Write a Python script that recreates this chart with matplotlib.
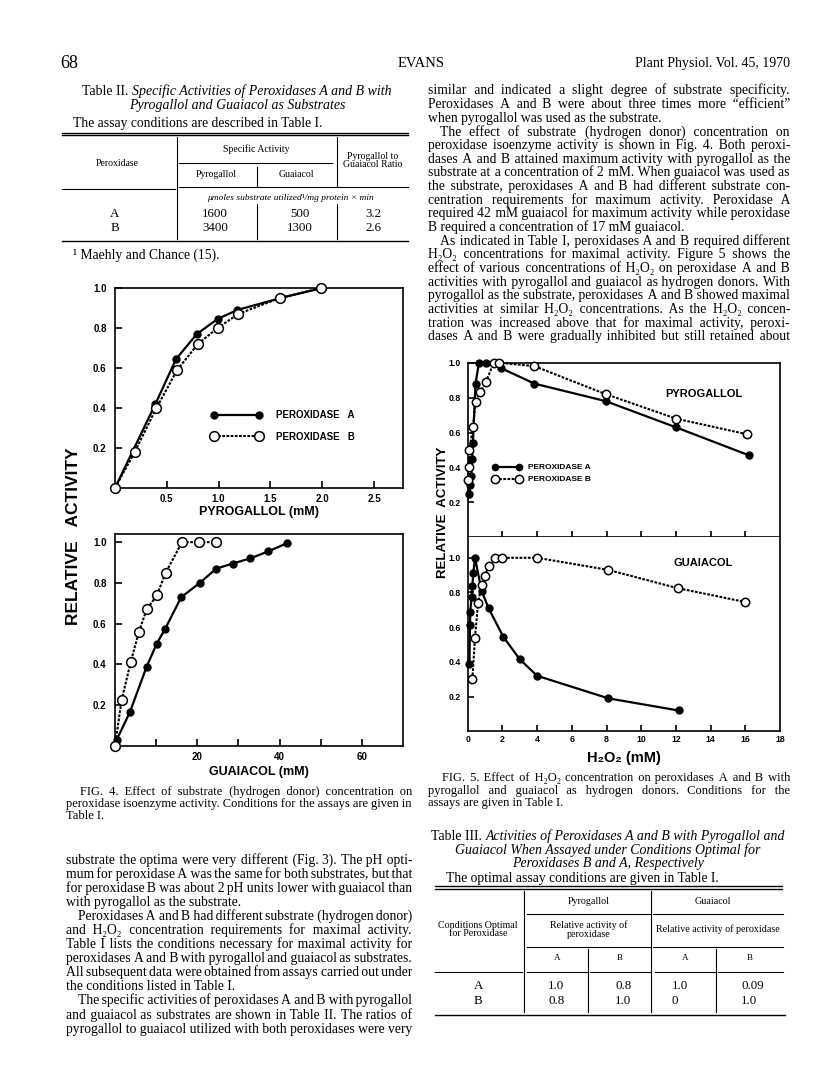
import matplotlib
matplotlib.use("Agg")
import matplotlib.pyplot as plt
from matplotlib.lines import Line2D

W, H = 816, 1073
SERIF = ['Liberation Serif', 'DejaVu Serif']
SANS = ['Liberation Sans', 'DejaVu Sans']
BODY = 9.8

# Fig. 4, pyrogallol (mM) vs relative activity
pyro_a_x = [0, 0.39, 0.59, 0.79, 0.99, 1.18, 1.6, 2.0]
pyro_a_y = [0, 0.42, 0.645, 0.77, 0.845, 0.89, 0.95, 1.0]
pyro_b_x = [0, 0.19, 0.40, 0.60, 0.80, 0.99, 1.19, 1.59, 1.99]
pyro_b_y = [0, 0.18, 0.40, 0.59, 0.72, 0.80, 0.87, 0.95, 1.0]

# Fig. 4, guaiacol (mM) vs relative activity
gua_a_x = [0.4, 3.6, 7.7, 10.1, 12.2, 16.1, 20.6, 24.6, 28.6, 32.8, 37.3, 41.8]
gua_a_y = [0.03, 0.165, 0.39, 0.50, 0.575, 0.73, 0.80, 0.87, 0.895, 0.92, 0.955, 0.995]
gua_b_x = [0, 1.6, 3.8, 5.8, 7.7, 10.2, 12.3, 16.3, 20.3, 24.5]
gua_b_y = [0, 0.225, 0.41, 0.56, 0.67, 0.74, 0.85, 1.0, 1.0, 1.0]

# Fig. 5, H2O2 (mM) with pyrogallol
h2o2_pa_x = [0.1, 0.15, 0.2, 0.25, 0.3, 0.45, 0.65, 1.05, 1.9, 3.85, 7.95, 12.0, 16.2]
h2o2_pa_y = [0.25, 0.30, 0.35, 0.45, 0.54, 0.88, 1.0, 1.0, 0.97, 0.88, 0.78, 0.63, 0.47]
h2o2_pb_x = [0, 0.05, 0.1, 0.3, 0.45, 0.7, 1.05, 1.5, 1.8, 3.85, 7.95, 12.0, 16.1]
h2o2_pb_y = [0.33, 0.40, 0.50, 0.63, 0.775, 0.83, 0.89, 1.0, 1.0, 0.98, 0.82, 0.68, 0.59]

# Fig. 5, H2O2 (mM) with guaiacol
h2o2_ga_x = [0.1, 0.13, 0.15, 0.22, 0.27, 0.32, 0.42, 0.8, 1.2, 2.05, 3.0, 4.0, 8.1, 12.15]
h2o2_ga_y = [0.39, 0.61, 0.69, 0.775, 0.84, 0.91, 1.0, 0.81, 0.71, 0.545, 0.415, 0.32, 0.19, 0.12]
h2o2_gb_x = [0.27, 0.42, 0.6, 0.8, 1.0, 1.2, 1.6, 2.0, 4.0, 8.1, 12.1, 16.0]
h2o2_gb_y = [0.30, 0.54, 0.74, 0.845, 0.895, 0.955, 1.0, 1.0, 1.0, 0.93, 0.825, 0.745]

# tables
t2_rows = ['A', 'B']
t2_pyro = ['1600', '3400']
t2_guai = ['500', '1300']
t2_ratio = ['3.2', '2.6']
t3_rows = ['A', 'B']
t3_pyro_a = ['1.0', '0.8']
t3_pyro_b = ['0.8', '1.0']
t3_guai_a = ['1.0', '0']
t3_guai_b = ['0.09', '1.0']

right_top = [
    ("similar and indicated a slight degree of substrate specificity.", False, True),
    ("Peroxidases A and B were about three times more \u201cefficient\u201d", False, True),
    ("when pyrogallol was used as the substrate.", False, False),
    ("The effect of substrate (hydrogen donor) concentration on", True, True),
    ("peroxidase isoenzyme activity is shown in Fig. 4. Both peroxi-", False, True),
    ("dases A and B attained maximum activity with pyrogallol as the", False, True),
    ("substrate at a concentration of 2 mM. When guaiacol was used as", False, True),
    ("the substrate, peroxidases A and B had different substrate con-", False, True),
    ("centration requirements for maximum activity. Peroxidase A", False, True),
    ("required 42 mM guaiacol for maximum activity while peroxidase", False, True),
    ("B required a concentration of 17 mM guaiacol.", False, False),
    ("As indicated in Table I, peroxidases A and B required different", True, True),
    ("H\u2082O\u2082 concentrations for maximal activity. Figure 5 shows the", False, True),
    ("effect of various concentrations of H\u2082O\u2082 on peroxidase A and B", False, True),
    ("activities with pyrogallol and guaiacol as hydrogen donors. With", False, True),
    ("pyrogallol as the substrate, peroxidases A and B showed maximal", False, True),
    ("activities at similar H\u2082O\u2082 concentrations. As the H\u2082O\u2082 concen-", False, True),
    ("tration was increased above that for maximal activity, peroxi-", False, True),
    ("dases A and B were gradually inhibited but still retained about", False, True),
]
left_bottom = [
    ("substrate the optima were very different (Fig. 3). The pH opti-", False, True),
    ("mum for peroxidase A was the same for both substrates, but that", False, True),
    ("for peroxidase B was about 2 pH units lower with guaiacol than", False, True),
    ("with pyrogallol as the substrate.", False, False),
    ("Peroxidases A and B had different substrate (hydrogen donor)", True, True),
    ("and H\u2082O\u2082 concentration requirements for maximal activity.", False, True),
    ("Table I lists the conditions necessary for maximal activity for", False, True),
    ("peroxidases A and B with pyrogallol and guaiacol as substrates.", False, True),
    ("All subsequent data were obtained from assays carried out under", False, True),
    ("the conditions listed in Table I.", False, False),
    ("The specific activities of peroxidases A and B with pyrogallol", True, True),
    ("and guaiacol as substrates are shown in Table II. The ratios of", False, True),
    ("pyrogallol to guaiacol utilized with both peroxidases were very", False, True),
]
cap4 = [
    ("FIG. 4. Effect of substrate (hydrogen donor) concentration on", True, True),
    ("peroxidase isoenzyme activity. Conditions for the assays are given in", False, True),
    ("Table I.", False, False),
]
cap5 = [
    ("FIG. 5. Effect of H\u2082O\u2082 concentration on peroxidases A and B with", True, True),
    ("pyrogallol and guaiacol as hydrogen donors. Conditions for the", False, True),
    ("assays are given in Table I.", False, False),
]

fig = plt.figure(figsize=(W / 100, H / 100), dpi=100)
renderer = fig.canvas.get_renderer()


def fx(x):
    return x / W


def fy(y):
    return 1 - y / H


def txt(x, y, s, size=BODY, ha='left', family=SERIF, **kw):
    # y is the middle of the lower-case letters; place on a common baseline
    base = y + 0.33 * size * 100 / 72
    return fig.text(fx(x), fy(base), s, fontsize=size, ha=ha, va='baseline',
                    family=family, **kw)


def width(s, size, **kw):
    t = txt(0, 0, s, size, **kw)
    w = t.get_window_extent(renderer).width
    t.remove()
    return w


def rule(x0, x1, y, lw=0.8):
    fig.add_artist(Line2D([fx(x0), fx(x1)], [fy(y), fy(y)], color='k', lw=lw,
                          transform=fig.transFigure))


def vrule(x, y0, y1, lw=0.8):
    fig.add_artist(Line2D([fx(x), fx(x)], [fy(y0), fy(y1)], color='k', lw=lw,
                          transform=fig.transFigure))


def spaced(words, total, n):
    # spread `total` hair spaces over the n gaps
    out = words[0]
    done = 0
    for k in range(1, n + 1):
        want = int(round(total * k / n))
        out += "\u200a" * max(want - done, 1) + words[k]
        done = max(want, done + 1)
    return out


def block(lines, x0, x1, y0, step, size, indent=12):
    # justified column text built from hair spaces, one Text per line
    hair = width("x\u200ax", size) - width("xx", size)
    for i, (line, ind, stretch) in enumerate(lines):
        y = y0 + i * step
        left = x0 + (indent if ind else 0)
        words = line.split()
        if not stretch or len(words) < 2:
            txt(left, y, line, size)
            continue
        n = len(words) - 1
        target = x1 - left
        total = max(int(round((target - sum(width(w, size) for w in words)) / hair)), n)
        for _ in range(2):
            err = target - width(spaced(words, total, n), size)
            total = max(total + int(round(err / hair)), n)
        txt(left, y, spaced(words, total, n), size)


def mixed(parts, x, y, size, center=True):
    objs = [txt(x, y, s, size, style=st) for s, st in parts]
    widths = [o.get_window_extent(renderer).width for o in objs]
    start = x - sum(widths) / 2 if center else x
    for o, w in zip(objs, widths):
        o.set_x(fx(start))
        start += w


def panel(l, t, r, b):
    ax = fig.add_axes([fx(l), fy(b), (r - l) / W, (b - t) / H])
    for s in ax.spines.values():
        s.set_linewidth(1.2)
    ax.tick_params(direction='in', width=1.2, length=5)
    return ax


def bold_ticks(ax, xt, xl, yt, yl, size):
    ax.set_xticks(xt)
    ax.set_xticklabels(xl, fontweight='bold', family=SANS, fontsize=size)
    ax.set_yticks(yt)
    ax.set_yticklabels(yl, fontweight='bold', family=SANS, fontsize=size)


sty_a = dict(color='k', lw=1.6, marker='o', ms=5, mfc='k', mec='k',
             clip_on=False, zorder=3)
sty_b = dict(color='k', lw=1.5, ls=(0, (1.3, 0.7)), marker='o', ms=7,
             mfc='white', mec='k', mew=1.1, clip_on=False, zorder=4)
yt = [0.2, 0.4, 0.6, 0.8, 1.0]
yl = ['0.2', '0.4', '0.6', '0.8', '1.0']

# ---------------- page header ----------------
txt(60, 62, "68", 13)
txt(421, 62, "EVANS", 10.5, ha='center')
txt(790, 62, "Plant Physiol. Vol. 45, 1970", 10, ha='right')

# ---------------- Table II ----------------
mixed([("Table II. ", 'normal'),
       ("Specific Activities of Peroxidases A and B with", 'italic')], 237, 90, 10)
mixed([("Pyrogallol and Guaiacol as Substrates", 'italic')], 237, 104, 10)
txt(73, 123, "The assay conditions are described in Table I.")
rule(62, 408, 132.7, 1.0)
rule(62, 408, 135.3, 1.0)
vrule(176.7, 137, 239)
vrule(337.3, 137, 186)
vrule(337.3, 204, 239)
vrule(256.7, 167, 186)
vrule(256.7, 204, 239)
rule(179, 332, 163.3)
rule(62, 175, 189.3)
rule(179, 408, 186.7)
rule(62, 408, 240.7, 1.0)
txt(256.7, 149, "Specific Activity", 7, ha='center')
txt(116.7, 162.3, "Peroxidase", 7, ha='center')
txt(216.7, 174, "Pyrogallol", 7, ha='center')
txt(296.7, 174, "Guaiacol", 7, ha='center')
txt(373, 155.5, "Pyrogallol to", 7, ha='center')
txt(373, 163.5, "Guaiacol Ratio", 7, ha='center')
txt(290, 197.3, "\u03bcmoles substrate utilized\u00b9/mg protein \u00d7 min", 6.8,
    ha='center', style='italic')
for i, row in enumerate(t2_rows):
    y = 212.3 + i * 14.4
    txt(115, y, row, 9.3, ha='center')
    txt(215, y, t2_pyro[i], 9.3, ha='center')
    txt(300, y, t2_guai[i], 9.3, ha='center')
    txt(373, y, t2_ratio[i], 9.3, ha='center')
txt(73, 254, "\u00b9 Maehly and Chance (15).")

# ---------------- right column text ----------------
block(right_top, 428, 790, 90, 13.65, BODY)

# ---------------- Fig. 4 ----------------
ax1 = panel(115, 288, 403, 488)
ax1.plot(pyro_a_x, pyro_a_y, **sty_a)
ax1.plot(pyro_b_x, pyro_b_y, **sty_b)
ax1.set_xlim(0, 2.78)
ax1.set_ylim(0, 1.0)
bold_ticks(ax1, [0.5, 1.0, 1.5, 2.0, 2.5], ['0.5', '1.0', '1.5', '2.0', '2.5'],
           yt, yl, 7)
ax1.tick_params(axis='y', pad=6)
ax1.tick_params(axis='x', pad=4)
ax1.set_xlabel("PYROGALLOL (mM)", fontsize=9, fontweight='bold', family=SANS,
               labelpad=2)
hA = Line2D([], [], color='k', lw=1.6, marker='o', ms=5)
hB = Line2D([], [], color='k', lw=1.5, ls=(0, (1.3, 0.7)), marker='o', ms=7,
            mfc='white', mec='k', mew=1.1)
ax1.legend([hA, hB], ["PEROXIDASE   A", "PEROXIDASE   B"], numpoints=2,
           loc='center left', bbox_to_anchor=(0.335, 0.31), frameon=False,
           handlelength=5.2, handletextpad=1.4, labelspacing=1.2,
           borderpad=0, borderaxespad=0,
           prop=dict(family=SANS, weight='bold', size=7))

ax2 = panel(115, 534, 403, 746)
ax2.plot(gua_a_x, gua_a_y, **sty_a)
ax2.plot(gua_b_x, gua_b_y, **sty_b)
ax2.set_xlim(0, 70)
ax2.set_ylim(0, 1.04)
bold_ticks(ax2, [10, 20, 30, 40, 50, 60], ['', '20', '', '40', '', '60'], yt, yl, 7)
ax2.tick_params(axis='y', pad=6)
ax2.tick_params(axis='x', pad=4)
ax2.set_xlabel("GUAIACOL (mM)", fontsize=9, fontweight='bold', family=SANS,
               labelpad=3)
fig.text(fx(73), fy(536), "RELATIVE   ACTIVITY", fontsize=12.5, ha='center',
         va='center', family=SANS, fontweight='bold', rotation=90)

block(cap4, 66, 412, 791, 12, 9, indent=14)
block(left_bottom, 66, 412, 859, 14.1, BODY)

# ---------------- Fig. 5 ----------------
ax3 = panel(467.7, 362.7, 780, 537.3)
ax3.plot(h2o2_pa_x, h2o2_pa_y, **sty_a)
ax3.plot(h2o2_pb_x, h2o2_pb_y, **dict(sty_b, ms=6))
ax3.set_xlim(0, 18)
ax3.set_ylim(0, 1.0)
bold_ticks(ax3, [2, 4, 6, 8, 10, 12, 14, 16], [], yt, yl, 6.3)
ax3.tick_params(axis='both', length=4.5, pad=5)
ax3.text(0.755, 0.82, "PYROGALLOL", transform=ax3.transAxes, fontsize=8,
         fontweight='bold', family=SANS, ha='center', va='center')
hA5 = Line2D([], [], color='k', lw=1.6, marker='o', ms=4.5)
hB5 = Line2D([], [], color='k', lw=1.5, ls=(0, (1.3, 0.7)), marker='o', ms=6,
             mfc='white', mec='k', mew=1.1)
ax3.legend([hA5, hB5], ["PEROXIDASE A", "PEROXIDASE B"], numpoints=2,
           loc='center left', bbox_to_anchor=(0.08, 0.365), frameon=False,
           handlelength=3.4, handletextpad=0.8, labelspacing=0.5,
           borderpad=0, borderaxespad=0,
           prop=dict(family=SANS, weight='bold', size=6))

ax4 = panel(467.7, 537.3, 780, 731.3)
ax4.plot(h2o2_ga_x, h2o2_ga_y, **sty_a)
ax4.plot(h2o2_gb_x, h2o2_gb_y, **dict(sty_b, ms=6))
ax4.set_xlim(0, 18)
ax4.set_ylim(0, 1.118)
ax4.spines['top'].set_visible(False)
bold_ticks(ax4, [0, 2, 4, 6, 8, 10, 12, 14, 16, 18],
           ['0', '2', '4', '6', '8', '10', '12', '14', '16', '18'], yt, yl, 6.3)
ax4.tick_params(axis='both', length=4.5)
ax4.tick_params(axis='y', pad=5)
ax4.tick_params(axis='x', pad=3)
for t in ax4.xaxis.get_major_ticks():
    if t.get_loc() in (0, 18):
        t.tick1line.set_visible(False)
ax4.text(0.755, 0.87, "GUAIACOL", transform=ax4.transAxes, fontsize=8,
         fontweight='bold', family=SANS, ha='center', va='center')
ax4.set_xlabel("H\u2082O\u2082 (mM)", fontsize=10.5, fontweight='bold',
               family=SANS, labelpad=5)
fig.text(fx(443), fy(512), "RELATIVE  ACTIVITY", fontsize=9.5, ha='center',
         va='center', family=SANS, fontweight='bold', rotation=90)

block(cap5, 428, 790, 777, 12.5, 9, indent=14)

# ---------------- Table III ----------------
mixed([("Table III. ", 'normal'),
       ("Activities of Peroxidases A and B with Pyrogallol and", 'italic')],
      608, 835, 10)
mixed([("Guaiacol When Assayed under Conditions Optimal for", 'italic')], 608, 849, 10)
mixed([("Peroxidases B and A, Respectively", 'italic')], 608, 862, 10)
txt(446, 878, "The optimal assay conditions are given in Table I.")
rule(435, 782, 886, 1.0)
rule(435, 782, 888.5, 1.0)
vrule(524.3, 891, 1012)
vrule(651, 891, 1012)
vrule(588.3, 949, 1012)
vrule(716, 949, 1012)
rule(527, 650, 914)
rule(653, 783, 914)
rule(527, 650, 946.7)
rule(653, 783, 946.7)
rule(435, 522, 971.7)
rule(527, 587, 971.7)
rule(590, 650, 971.7)
rule(655, 715, 971.7)
rule(718, 783, 971.7)
rule(435, 785, 1015, 1.0)
txt(588.3, 901, "Pyrogallol", 7.2, ha='center')
txt(713.3, 901, "Guaiacol", 7.2, ha='center')
txt(478.3, 925, "Conditions Optimal", 7.2, ha='center')
txt(478.3, 933, "for Peroxidase", 7.2, ha='center')
txt(588.3, 925, "Relative activity of", 7.2, ha='center')
txt(588.3, 933.5, "peroxidase", 7.2, ha='center')
txt(718.3, 929, "Relative activity of peroxidase", 7.2, ha='center')
for x, s in zip([556.7, 620, 685, 750], ['A', 'B', 'A', 'B']):
    txt(x, 957.5, s, 6.5, ha='center')
for i, row in enumerate(t3_rows):
    y = 985 + i * 14.5
    txt(478.3, y, row, 9.3, ha='center')
    txt(548.3, y, t3_pyro_a[i], 9.3)
    txt(615, y, t3_pyro_b[i], 9.3)
    txt(672, y, t3_guai_a[i], 9.3)
    txt(741, y, t3_guai_b[i], 9.3)

fig.savefig("out.png", dpi=100)
